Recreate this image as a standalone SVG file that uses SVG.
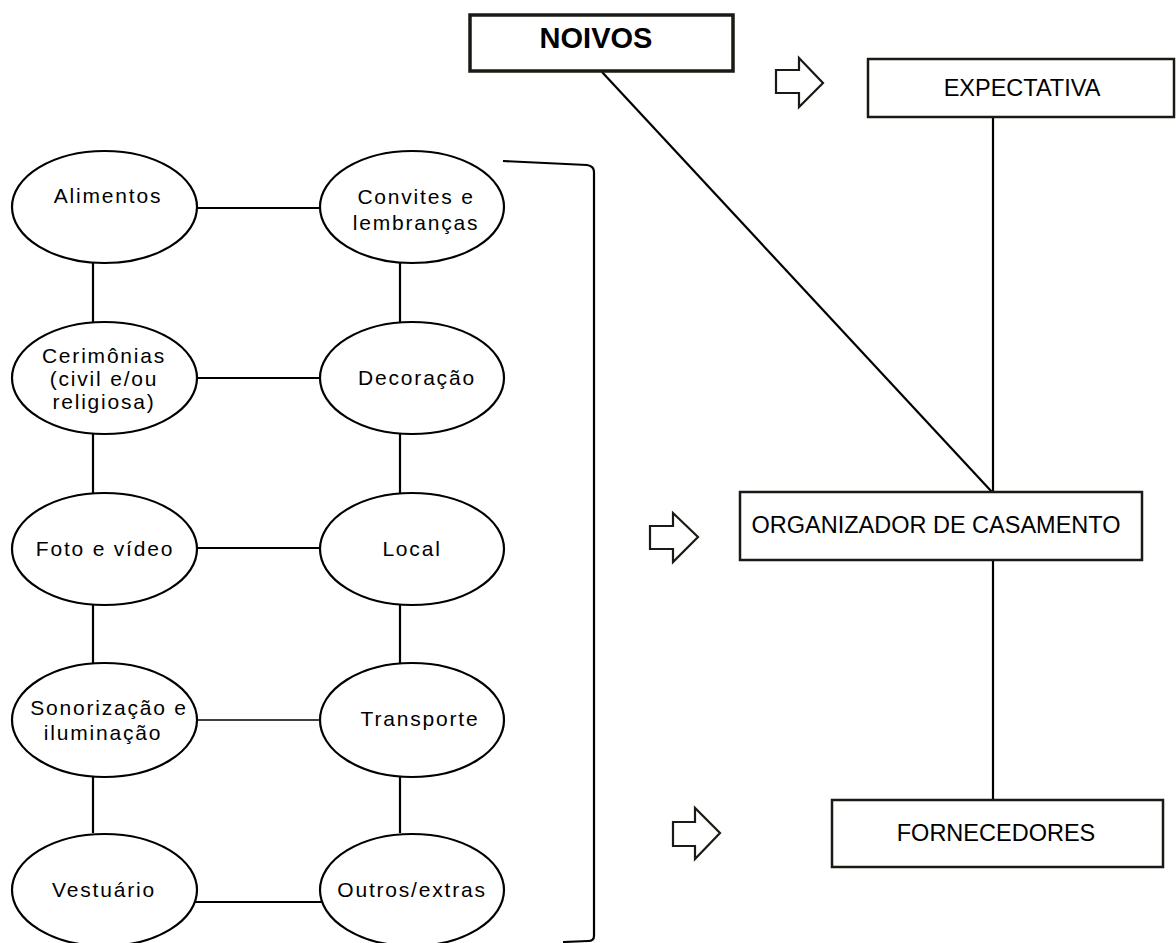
<svg xmlns="http://www.w3.org/2000/svg" width="1176" height="943" viewBox="0 0 1176 943">
<style>
.bg{fill:#fff}
.ell{fill:#fff;stroke:#000;stroke-width:2.2}
.box{fill:#fff;stroke:#1a1a14;stroke-width:2.5}
.boxb{fill:#fff;stroke:#1a1a14;stroke-width:3.5}
.ln{stroke:#000;stroke-width:2.2;fill:none}
.thin{stroke:#000;stroke-width:1.4;fill:none}
.arr{fill:#fff;stroke:#1a1a14;stroke-width:2.2;stroke-linejoin:miter}
.t{font-family:"Liberation Sans",Arial,sans-serif;font-size:21px;letter-spacing:1.8px;fill:#000;text-anchor:middle}
.tb{font-family:"Liberation Sans",Arial,sans-serif;font-size:23.5px;fill:#000;text-anchor:middle}
.tn{font-family:"Liberation Sans",Arial,sans-serif;font-size:29px;font-weight:bold;fill:#000;text-anchor:middle}
</style>
<rect class="bg" x="0" y="0" width="1176" height="943"/>
<g id="connectors">
<line class="ln" x1="197" y1="208" x2="320" y2="208"/>
<line class="ln" x1="197" y1="378" x2="320" y2="378"/>
<line class="ln" x1="197" y1="548" x2="320" y2="548"/>
<line class="thin" x1="197" y1="720" x2="320" y2="720"/>
<line class="ln" x1="195" y1="902" x2="322" y2="902"/>
<line class="ln" x1="93" y1="263" x2="93" y2="322"/>
<line class="ln" x1="93" y1="434" x2="93" y2="493"/>
<line class="ln" x1="93" y1="605" x2="93" y2="663"/>
<line class="ln" x1="93" y1="776" x2="93" y2="833"/>
<line class="ln" x1="400" y1="263" x2="400" y2="322"/>
<line class="ln" x1="400" y1="434" x2="400" y2="493"/>
<line class="ln" x1="400" y1="605" x2="400" y2="663"/>
<line class="ln" x1="400" y1="776" x2="400" y2="833"/>
<path class="ln" d="M503,161 L587,165 Q594,166 594,172 L594,936 Q594,941 588,941 L563,942"/>
<line class="ln" x1="602" y1="72" x2="992" y2="492"/>
<line class="ln" x1="993" y1="117" x2="993" y2="492"/>
<line class="ln" x1="993" y1="560" x2="993" y2="800"/>
<path class="arr" d="M776,70 L799,70 L799,58 L823,83 L799,107 L799,93 L776,93 Z"/>
<path class="arr" d="M650,526 L673,526 L673,513 L698,537 L673,562 L673,549 L650,549 Z"/>
<path class="arr" d="M673,822 L695,822 L695,808 L720,833 L695,859 L695,846 L673,846 Z"/>
</g>
<g id="noivos">
<rect class="boxb" x="470" y="15" width="263" height="56"/>
<text class="tn" x="596" y="48">NOIVOS</text>
</g>
<g id="expectativa">
<rect class="box" x="868" y="59" width="306" height="58"/>
<text class="tb" x="1022" y="96">EXPECTATIVA</text>
</g>
<g id="organizador">
<rect class="box" x="740" y="492" width="402" height="68"/>
<text class="tb" x="936" y="533">ORGANIZADOR DE CASAMENTO</text>
</g>
<g id="fornecedores">
<rect class="box" x="832" y="800" width="331" height="67"/>
<text class="tb" x="996" y="841">FORNECEDORES</text>
</g>
<g id="alimentos">
<ellipse class="ell" cx="104.5" cy="207" rx="92.5" ry="56"/>
<text class="t" x="108" y="203">Alimentos</text>
</g>
<g id="convites">
<ellipse class="ell" cx="412" cy="207" rx="92" ry="56"/>
<text class="t" x="416" y="204">Convites e</text>
<text class="t" x="416" y="230">lembranças</text>
</g>
<g id="cerimonias">
<ellipse class="ell" cx="104.5" cy="378" rx="92.5" ry="56"/>
<text class="t" x="104" y="363">Cerimônias</text>
<text class="t" x="104" y="386">(civil e/ou</text>
<text class="t" x="104" y="409">religiosa)</text>
</g>
<g id="decoracao">
<ellipse class="ell" cx="412" cy="378" rx="92" ry="56"/>
<text class="t" x="417" y="385">Decoração</text>
</g>
<g id="foto">
<ellipse class="ell" cx="104.5" cy="549" rx="92.5" ry="56"/>
<text class="t" x="105" y="556">Foto e vídeo</text>
</g>
<g id="local">
<ellipse class="ell" cx="412" cy="549" rx="92" ry="56"/>
<text class="t" x="412" y="556">Local</text>
</g>
<g id="sonorizacao">
<ellipse class="ell" cx="104.5" cy="720" rx="92.5" ry="57"/>
<text class="t" x="109" y="715">Sonorização e</text>
<text class="t" x="103" y="740">iluminação</text>
</g>
<g id="transporte">
<ellipse class="ell" cx="412" cy="720" rx="92" ry="57"/>
<text class="t" x="420" y="726">Transporte</text>
</g>
<g id="vestuario">
<ellipse class="ell" cx="104.5" cy="890" rx="92.5" ry="56"/>
<text class="t" x="104" y="897">Vestuário</text>
</g>
<g id="outros">
<ellipse class="ell" cx="412" cy="890" rx="92" ry="56"/>
<text class="t" x="412" y="897">Outros/extras</text>
</g>
</svg>
